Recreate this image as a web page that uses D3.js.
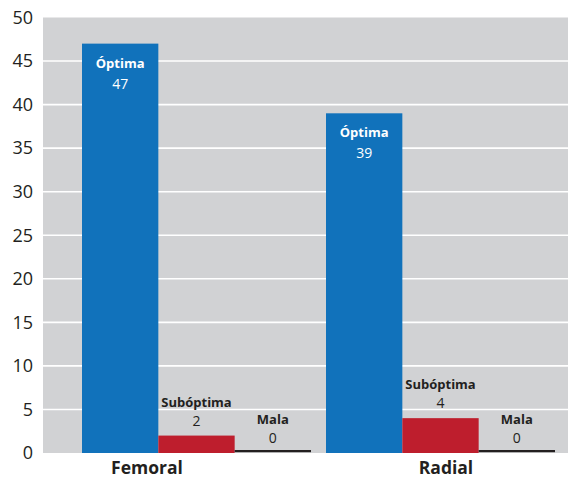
<!DOCTYPE html>
<html>
<head>
<meta charset="utf-8">
<script src="https://cdn.jsdelivr.net/npm/d3@7"></script>
<style>
  html, body { margin: 0; padding: 0; background: #ffffff; }
  svg { display: block; font-family: "Open Sans", "DejaVu Sans", sans-serif; }
</style>
</head>
<body>
<svg id="chart" width="568" height="479"></svg>
<script>
// Access site groups and quality categories
const groups = ["Femoral", "Radial"];
const series = ["Óptima", "Subóptima", "Mala"];
const femoralValues = [47, 2, 0];
const radialValues = [39, 4, 0];
const yTicks = [0, 5, 10, 15, 20, 25, 30, 35, 40, 45, 50];
const seriesColors = ["#1172bb", "#be1e2d", "#231f20"];

const rows = groups.map((g, i) => ({
  group: g,
  values: series.map((s, j) => ({
    series: s,
    value: (i === 0 ? femoralValues : radialValues)[j],
    color: seriesColors[j]
  }))
}));

const svg = d3.select("#chart");
const plot = { left: 43, right: 568, top: 17.5, bottom: 453 };

const y = d3.scaleLinear().domain([0, 50]).range([plot.bottom, plot.top]);

// Bar groups sit inside the plot area with a narrow gap between them
const x0 = d3.scaleBand().domain(groups).range([82, 555]).paddingInner(0.0615).paddingOuter(0);
const x1 = d3.scaleBand().domain(series).range([0, x0.bandwidth()]).padding(0);
// Category labels under the axis
const xLabel = d3.scalePoint().domain(groups).range([147, 446]);

// Plot background
svg.append("rect")
  .attr("x", plot.left).attr("y", plot.top)
  .attr("width", plot.right - plot.left).attr("height", plot.bottom - plot.top)
  .attr("fill", "#d1d2d4");

// Gridlines
svg.append("g").selectAll("line")
  .data(yTicks.filter(t => t > 0 && t < 50))
  .join("line")
  .attr("x1", plot.left).attr("x2", plot.right)
  .attr("y1", d => y(d)).attr("y2", d => y(d))
  .attr("stroke", "#ffffff").attr("stroke-width", 1.6);

// Y axis labels
const yAxis = d3.axisLeft(y).tickValues(yTicks).tickSize(0).tickPadding(10).tickFormat(d3.format("d"));
const yg = svg.append("g").attr("transform", `translate(${plot.left},0)`).call(yAxis);
yg.select(".domain").remove();
yg.selectAll("text")
  .attr("font-size", 18).attr("fill", "#231f20")
  .attr("font-family", "'Open Sans', sans-serif");

// Bars
const gg = svg.append("g").selectAll("g")
  .data(rows)
  .join("g")
  .attr("transform", d => `translate(${x0(d.group)},0)`);

gg.selectAll("rect")
  .data(d => d.values)
  .join("rect")
  .attr("x", d => x1(d.series))
  .attr("width", x1.bandwidth())
  .attr("y", d => d.value > 0 ? y(d.value) : y(0) - 3)
  .attr("height", d => d.value > 0 ? y(0) - y(d.value) : 2.2)
  .attr("fill", d => d.color);

// Labels: inside tall bars in white, above short bars in dark text
const labels = gg.selectAll("g.lbl")
  .data(d => d.values)
  .join("g")
  .attr("class", "lbl")
  .attr("transform", d => `translate(${x1(d.series) + x1.bandwidth() / 2},${y(d.value)})`);

labels.append("text")
  .attr("text-anchor", "middle")
  .attr("y", d => d.value > 20 ? 24 : -29)
  .attr("font-size", 13).attr("font-weight", 700)
  .attr("fill", d => d.value > 20 ? "#ffffff" : "#231f20")
  .text(d => d.series);

labels.append("text")
  .attr("text-anchor", "middle")
  .attr("y", d => d.value > 20 ? 45 : -10)
  .attr("font-size", 14)
  .attr("fill", d => d.value > 20 ? "#ffffff" : "#231f20")
  .text(d => d.value);

// Category labels
svg.append("g").selectAll("text")
  .data(groups)
  .join("text")
  .attr("x", d => xLabel(d))
  .attr("y", 474)
  .attr("text-anchor", "middle")
  .attr("font-size", 17.5).attr("font-weight", 700)
  .attr("fill", "#231f20")
  .text(d => d);
</script>
</body>
</html>
